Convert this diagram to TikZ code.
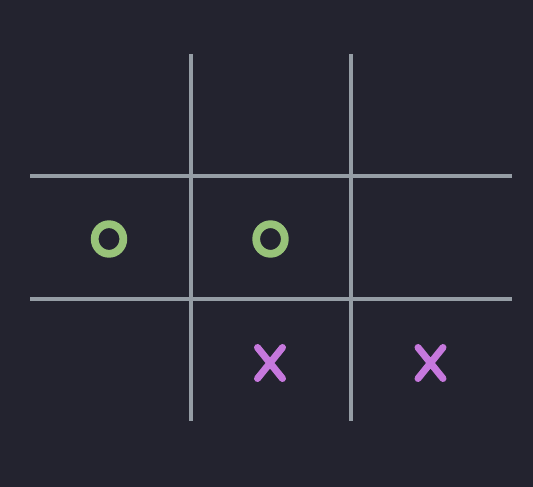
\documentclass[tikz,border=0pt]{standalone}
\definecolor{boardbg}{HTML}{23232F}
\definecolor{gridgray}{HTML}{959DA5}
\definecolor{markgreen}{HTML}{98C379}
\definecolor{markpurple}{HTML}{C678DD}
\begin{document}
\begin{tikzpicture}[x=1pt,y=-1pt,
  gridline/.style={color=gridgray, line width=4pt},
  ringmark/.style={color=markgreen, line width=7.8pt},
  crossmark/.style={color=markpurple, line width=7pt, line cap=round}]
\fill [color=boardbg] (0,0) rectangle (533,487);
\useasboundingbox (0,0) rectangle (533,487);
\draw [gridline] (191,54) -- (191,421);
\draw [gridline] (351,54) -- (351,421);
\draw [gridline] (30,176) -- (512,176);
\draw [gridline] (30,299) -- (512,299);
\draw [ringmark] (109,239) ellipse [x radius = 14.3, y radius = 14.8];
\draw [ringmark] (270.5,239) ellipse [x radius = 14.3, y radius = 14.8];
\draw [crossmark] (257.5,347.5) -- (282.5,378.5) (282.5,347.5) -- (257.5,378.5);
\draw [crossmark] (418,347.5) -- (443,378.5) (443,347.5) -- (418,378.5);
\end{tikzpicture}
\end{document}
